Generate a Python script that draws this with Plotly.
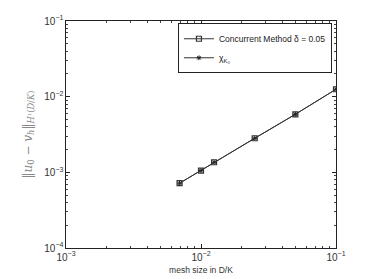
import plotly.graph_objects as go

mesh_size = [0.1, 0.05, 0.025, 0.0125, 0.01, 0.00694]
err_concurrent = [0.01253, 0.00585, 0.00282, 0.00136, 0.001054, 0.000718]
err_chi = [0.01253, 0.00585, 0.00282, 0.00136, 0.001054, 0.000718]

fig = go.Figure()
fig.add_trace(go.Scatter(
    x=mesh_size, y=err_concurrent, mode="lines+markers",
    name="Concurrent Method δ = 0.05",
    line=dict(color="#333333", width=1),
    marker=dict(symbol="square-open", size=5, color="#333333", line=dict(width=1.2)),
))
fig.add_trace(go.Scatter(
    x=mesh_size, y=err_chi, mode="lines+markers",
    name="χ<sub>K₀</sub>",
    line=dict(color="#333333", width=1),
    marker=dict(symbol="asterisk-open", size=4, color="#222222", line=dict(width=1)),
))

axis_common = dict(
    type="log", showline=True, linecolor="#222222", linewidth=1, mirror="ticks",
    ticks="inside", ticklen=4, tickcolor="#222222", showgrid=False, zeroline=False,
    dtick=1, exponentformat="power", showexponent="all", automargin=False,
    tickfont=dict(family="Liberation Sans, Arial", size=8, color="#333333"),
    minor=dict(ticks="inside", ticklen=2, tickcolor="#444444", showgrid=False, dtick="D1"),
)

fig.update_xaxes(range=[-3, -1],
                 title=dict(text="mesh size in D/K", standoff=5,
                            font=dict(family="Liberation Sans, Arial", size=8.5, color="#333333")),
                 **axis_common)
fig.update_yaxes(range=[-4, -1],
                 title=dict(text="‖<i>u</i><sub>0</sub> − <i>v<sub>h</sub></i>‖<sub><i>H</i>¹(<i>D</i>/<i>K</i>)</sub>",
                            standoff=9,
                            font=dict(family="DejaVu Serif, Liberation Serif", size=12, color="#888888")),
                 **axis_common)

fig.update_layout(
    width=365, height=271,
    margin=dict(l=58, r=37, t=13, b=31, autoexpand=False),
    paper_bgcolor="white", plot_bgcolor="white",
    font=dict(family="Liberation Sans, Arial", size=8, color="#333333"),
    showlegend=True,
    legend=dict(x=0.985, y=0.99, xanchor="right", yanchor="top",
                bordercolor="#222222", borderwidth=1, bgcolor="white",
                font=dict(family="Liberation Sans, Arial", size=8.5, color="#222222"),
                itemwidth=30, tracegroupgap=0),
)

fig.write_html("out.html")
